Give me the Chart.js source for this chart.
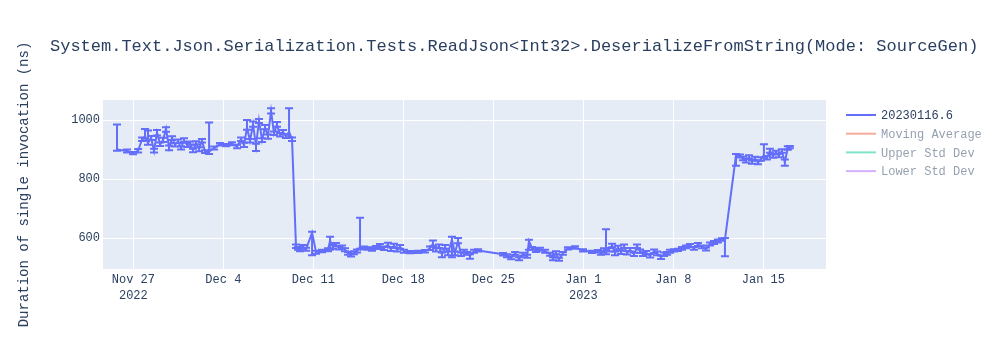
<!DOCTYPE html>
<html>

<head>
    <title>ReadJson Int32 DeserializeFromString</title>
    <script src="https://cdn.jsdelivr.net/npm/chart.js@4.4.0/dist/chart.umd.min.js"></script>
    <style>
        body { margin: 0; background: #fff; }
    </style>
</head>

<body>
    <canvas id="perfChart" width="1000" height="350"></canvas>
    <script type="text/javascript">
    var chartTitle = "System.Text.Json.Serialization.Tests.ReadJson<Int32>.DeserializeFromString(Mode: SourceGen)";
    var yTitle = "Duration of single invocation (ns)";
    var seriesNames = ["20230116.6", "Moving Average", "Upper Std Dev", "Lower Std Dev"];
    var seriesColors = ["#636efa", "#ef553b", "#00cc96", "#ab63fa"];

    // run time, in days since 2022-11-27
    var runDays = [
        -1.27, -0.49, -0.02, 0.37, 0.68, 0.91, 1.14, 1.38, 1.61, 1.84,
        2.08, 2.31, 2.54, 2.78, 3.01, 3.24, 3.48, 3.71, 3.94, 4.18,
        4.41, 4.64, 4.88, 5.11, 5.34, 5.58, 5.89, 6.28, 6.74, 7.21,
        7.67, 8.07, 8.38, 8.61, 8.84, 9.07, 9.31, 9.54, 9.77, 10.01,
        10.24, 10.47, 10.71, 10.94, 11.17, 11.41, 11.64, 11.87, 12.11, 12.34,
        12.65, 12.81, 12.96, 13.20, 13.43, 13.90, 14.21, 14.67, 15.14, 15.30,
        15.53, 15.76, 16.00, 16.23, 16.46, 16.70, 16.93, 17.16, 17.40, 17.63,
        17.94, 18.25, 18.56, 18.87, 19.18, 19.49, 19.80, 20.04, 20.27, 20.50,
        20.74, 21.05, 21.52, 22.14, 22.68, 23.07, 23.30, 23.54, 23.77, 24.00,
        24.24, 24.47, 24.78, 25.01, 25.25, 25.48, 25.72, 25.95, 26.18, 26.49,
        26.81, 28.75, 29.06, 29.38, 29.69, 30.00, 30.31, 30.62, 30.77, 31.01,
        31.32, 31.63, 32.02, 32.41, 32.64, 32.87, 33.10, 33.41, 33.80, 34.35,
        34.97, 35.67, 36.13, 36.37, 36.60, 36.76, 36.99, 37.23, 37.46, 37.69,
        37.93, 38.16, 38.39, 38.63, 38.94, 39.17, 39.41, 39.64, 39.88, 40.19,
        40.50, 40.73, 41.04, 41.28, 41.51, 41.74, 42.05, 42.36, 42.67, 42.98,
        43.29, 43.60, 43.91, 44.23, 44.54, 44.85, 45.16, 45.47, 45.78, 46.01,
        46.87, 47.18, 47.41, 47.64, 47.88, 48.11, 48.35, 48.58, 48.81, 49.04,
        49.27, 49.51, 49.74, 49.97, 50.21, 50.44, 50.67, 50.90, 51.06
    ];
    var durationNs = [
        900, 895, 888, 896, 935, 945, 922, 940, 895, 958,
        918, 932, 970, 906, 940, 916, 928, 905, 932, 915,
        922, 897, 922, 902, 930, 893, 893, 905, 918, 915,
        920, 910, 935, 915, 975, 930, 985, 912, 998, 932,
        975, 945, 1030, 955, 985, 950, 960, 945, 960, 935,
        572, 565, 560, 570, 562, 618, 552, 556, 560, 590,
        570, 578, 566, 570, 560, 548, 542, 550, 556, 570,
        566, 565, 562, 568, 572, 565, 578, 562, 575, 560,
        570, 555, 552, 553, 555, 565, 580, 560, 572, 545,
        570, 548, 595, 548, 590, 545, 555, 548, 540, 555,
        558, 545, 540, 533, 548, 530, 545, 538, 590, 565,
        558, 562, 555, 545, 530, 550, 528, 548, 565, 568,
        558, 553, 555, 548, 560, 560, 560, 575, 548, 568,
        552, 572, 550, 560, 545, 572, 555, 545, 550, 540,
        555, 548, 535, 545, 548, 555, 558, 560, 565, 570,
        575, 565, 578, 570, 563, 580, 585, 590, 595, 595,
        880, 878, 870, 862, 875, 858, 870, 856, 868, 880,
        872, 895, 878, 890, 880, 895, 858, 905, 910
    ];
    var errPlus = [
        85, 5, 4, 6, 6, 25, 43, 6, 8, 8,
        6, 8, 6, 8, 5, 6, 6, 6, 6, 8,
        5, 6, 6, 6, 6, 5, 99, 5, 4, 4,
        5, 6, 6, 8, 25, 6, 10, 8, 6, 6,
        8, 6, 10, 6, 8, 6, 6, 6, 80, 6,
        6, 5, 5, 6, 5, 3, 5, 4, 5, 14,
        6, 5, 6, 5, 5, 5, 5, 5, 5, 99,
        5, 4, 5, 5, 8, 6, 6, 6, 6, 6,
        6, 5, 4, 4, 4, 6, 12, 6, 6, 6,
        6, 6, 9, 6, 10, 6, 5, 5, 5, 5,
        4, 4, 5, 5, 5, 5, 5, 5, 4, 5,
        5, 5, 5, 5, 5, 5, 5, 5, 4, 4,
        4, 4, 4, 5, 5, 70, 6, 6, 6, 6,
        6, 6, 6, 6, 6, 6, 6, 6, 6, 6,
        6, 6, 6, 6, 5, 5, 4, 4, 5, 5,
        5, 5, 5, 5, 5, 5, 5, 5, 4, 5,
        5, 5, 6, 6, 6, 6, 6, 6, 6, 38,
        6, 8, 6, 6, 6, 6, 8, 6, 2
    ];
    var errMinus = [
        4, 5, 4, 6, 6, 8, 6, 8, 5, 10,
        6, 6, 10, 8, 8, 6, 6, 5, 6, 6,
        6, 6, 5, 8, 6, 5, 8, 5, 4, 4,
        5, 6, 6, 6, 8, 6, 8, 17, 8, 6,
        6, 8, 8, 6, 8, 6, 8, 6, 18, 6,
        6, 5, 5, 6, 5, 76, 5, 4, 5, 30,
        6, 6, 5, 5, 5, 5, 5, 5, 5, 6,
        5, 4, 5, 5, 6, 6, 8, 6, 6, 6,
        6, 5, 4, 4, 4, 6, 8, 6, 6, 10,
        6, 6, 60, 6, 8, 6, 5, 5, 10, 5,
        4, 4, 5, 5, 5, 5, 5, 5, 30, 5,
        5, 5, 5, 5, 5, 5, 5, 5, 4, 4,
        4, 4, 4, 5, 5, 15, 6, 6, 6, 6,
        6, 6, 6, 6, 6, 6, 6, 6, 6, 6,
        6, 6, 6, 6, 5, 5, 4, 4, 5, 5,
        5, 5, 5, 5, 5, 5, 5, 5, 4, 57,
        35, 5, 6, 6, 6, 6, 6, 6, 6, 8,
        6, 6, 6, 6, 6, 6, 13, 6, 6
    ];

    var xTickDays = [0, 7, 14, 21, 28, 35, 42, 49];
    var xTickLabels = [["Nov 27", "2022"], "Dec 4", "Dec 11", "Dec 18", "Dec 25", ["Jan 1", "2023"], "Jan 8", "Jan 15"];
    var yTickValues = [600, 800, 1000];

    var monoFont = "'Liberation Mono', 'Courier New', monospace";
    var textColor = "#2a3f5f";
    Chart.defaults.font.family = monoFont;
    Chart.defaults.color = textColor;

    function fade(hex, a) {
        var n = parseInt(hex.slice(1), 16);
        return "rgba(" + (n >> 16) + "," + ((n >> 8) & 255) + "," + (n & 255) + "," + a + ")";
    }

    //plot background
    var plotBackground = {
        id: "plotBackground",
        beforeDraw: function(chart) {
            var a = chart.chartArea, ctx = chart.ctx;
            ctx.save();
            ctx.fillStyle = "#e5ecf6";
            ctx.fillRect(a.left, a.top, a.right - a.left, a.bottom - a.top);
            ctx.restore();
        }
    };

    //error bars with caps, placed through the chart scales
    var errorBars = {
        id: "errorBars",
        afterDatasetsDraw: function(chart) {
            var ctx = chart.ctx, a = chart.chartArea;
            var xs = chart.scales.x, ys = chart.scales.y;
            ctx.save();
            ctx.beginPath();
            ctx.rect(a.left, a.top, a.right - a.left, a.bottom - a.top);
            ctx.clip();
            ctx.strokeStyle = seriesColors[0];
            ctx.lineWidth = 2;
            for (var i = 0; i < runDays.length; i++) {
                var px = xs.getPixelForValue(runDays[i]);
                var top = ys.getPixelForValue(durationNs[i] + errPlus[i]);
                var bot = ys.getPixelForValue(durationNs[i] - errMinus[i]);
                ctx.beginPath();
                ctx.moveTo(px, top);
                ctx.lineTo(px, bot);
                ctx.moveTo(px - 4, top);
                ctx.lineTo(px + 4, top);
                ctx.moveTo(px - 4, bot);
                ctx.lineTo(px + 4, bot);
                ctx.stroke();
            }
            ctx.restore();
        }
    };

    //title and legend, plotly style
    var titleAndLegend = {
        id: "titleAndLegend",
        afterDraw: function(chart) {
            var ctx = chart.ctx;
            ctx.save();
            ctx.textBaseline = "middle";
            ctx.fillStyle = textColor;
            ctx.font = "17px " + monoFont;
            ctx.fillText(chartTitle, 50, 46);

            ctx.font = "12px " + monoFont;
            chart.data.datasets.forEach(function(ds, i) {
                var y = 115 + i * 18.7;
                var faded = ds.legendOnly;
                ctx.strokeStyle = faded ? fade(seriesColors[i], 0.5) : seriesColors[i];
                ctx.lineWidth = 2;
                ctx.beginPath();
                ctx.moveTo(846, y);
                ctx.lineTo(876, y);
                ctx.stroke();
                ctx.fillStyle = faded ? fade(textColor, 0.5) : textColor;
                ctx.fillText(ds.label, 881, y + 1);
            });
            ctx.restore();
        }
    };

    var points = runDays.map(function(d, i) {
        return { x: d, y: durationNs[i] };
    });

    var datasets = [{
        label: seriesNames[0],
        data: points,
        borderColor: seriesColors[0],
        borderWidth: 2,
        pointRadius: 0,
        tension: 0,
        fill: false
    }];
    for (var k = 1; k < seriesNames.length; k++) {
        datasets.push({
            label: seriesNames[k],
            data: [],
            borderColor: seriesColors[k],
            legendOnly: true,
            pointRadius: 0
        });
    }

    new Chart(document.getElementById("perfChart"), {
        type: "line",
        data: { datasets: datasets },
        plugins: [plotBackground, errorBars, titleAndLegend],
        options: {
            responsive: false,
            animation: false,
            layout: { padding: { top: 100, right: 174, left: 0, bottom: 0 } },
            plugins: {
                legend: { display: false },
                tooltip: { enabled: false }
            },
            scales: {
                x: {
                    type: "linear",
                    min: -2.36,
                    max: 53.87,
                    afterFit: function(axis) { axis.height = 81; },
                    afterBuildTicks: function(axis) {
                        axis.ticks = xTickDays.map(function(v) { return { value: v }; });
                    },
                    ticks: {
                        autoSkip: false,
                        maxRotation: 0,
                        padding: 2,
                        font: { size: 12, lineHeight: 1.4 },
                        color: textColor,
                        callback: function(v, i) { return xTickLabels[i]; }
                    },
                    grid: { color: "#ffffff", lineWidth: 1, drawTicks: false },
                    border: { display: false }
                },
                y: {
                    min: 495,
                    max: 1068,
                    afterFit: function(axis) { axis.width = 103; },
                    afterBuildTicks: function(axis) {
                        axis.ticks = yTickValues.map(function(v) { return { value: v }; });
                    },
                    ticks: {
                        padding: 3,
                        font: { size: 12 },
                        color: textColor,
                        callback: function(v) { return String(v); }
                    },
                    grid: { color: "#ffffff", lineWidth: 1, drawTicks: false },
                    border: { display: false },
                    title: {
                        display: true,
                        text: yTitle,
                        color: textColor,
                        font: { size: 14 },
                        padding: { top: 16, bottom: 0 }
                    }
                }
            }
        }
    });
    </script>
</body>

</html>
